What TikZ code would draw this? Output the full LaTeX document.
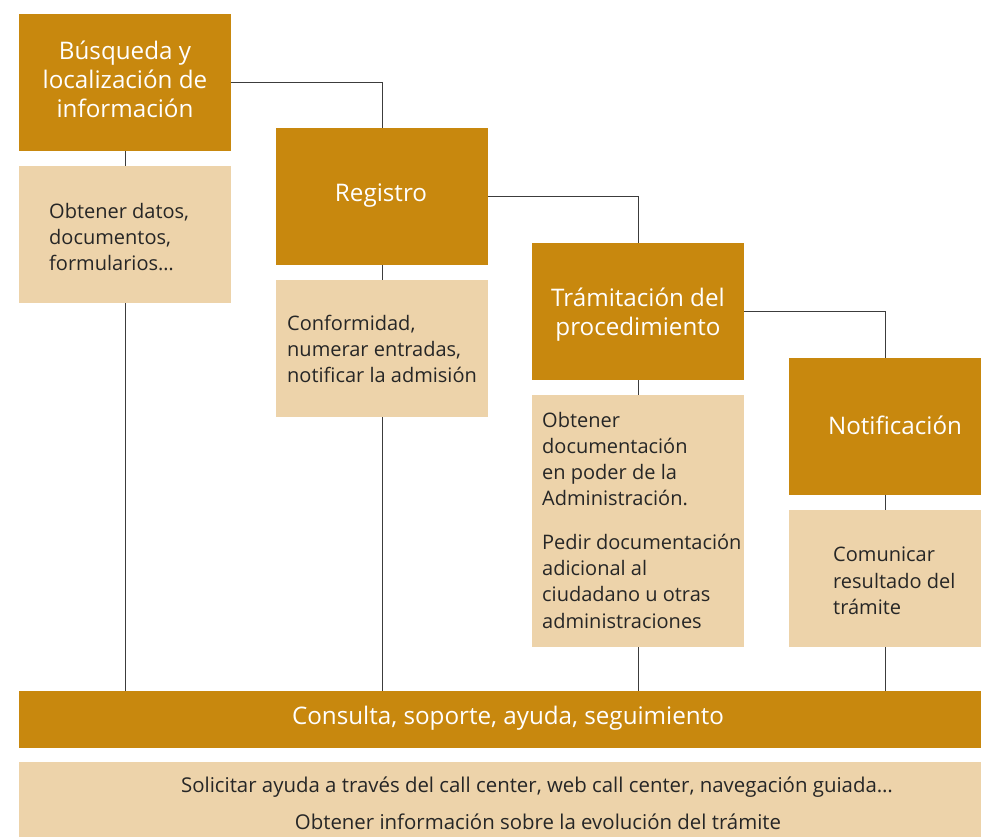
\documentclass[tikz,border=0pt]{standalone}
\usepackage{fontspec}
\setmainfont{Open Sans}
\usetikzlibrary{backgrounds}
\definecolor{ochre}{RGB}{200,136,14}
\definecolor{sand}{RGB}{237,211,170}
\definecolor{wire}{RGB}{60,60,60}
\tikzset{
  stage/.style={fill=ochre, draw=none, inner sep=0pt, anchor=north west},
  detail/.style={fill=sand, draw=none, inner sep=0pt, anchor=north west},
  headtxt/.style={text=white, align=center, font=\fontsize{24.2}{29}\selectfont, inner sep=0pt},
  bodytxt/.style={text=black!85, align=left, font=\fontsize{20}{26.3}\selectfont, inner sep=0pt, anchor=west},
  foottxt/.style={text=black!85, font=\fontsize{20.4}{22}\selectfont, inner sep=0pt},
  link/.style={draw=wire, line width=1pt}
}
\begin{document}
\begin{tikzpicture}[x=1pt, y=-1pt]
\useasboundingbox (0,0) rectangle (981,836);

% step boxes
\node[stage, minimum width=212pt, minimum height=137pt] (b1) at (19,14) {};
\node[detail, minimum width=212pt, minimum height=137pt] (d1) at (19,166) {};
\node[stage, minimum width=212pt, minimum height=137pt] (b2) at (276,128) {};
\node[detail, minimum width=212pt, minimum height=137pt] (d2) at (276,280) {};
\node[stage, minimum width=212pt, minimum height=137pt] (b3) at (532,243) {};
\node[detail, minimum width=212pt, minimum height=252pt] (d3) at (532,395) {};
\node[stage, minimum width=192pt, minimum height=137pt] (b4) at (789,358) {};
\node[detail, minimum width=192pt, minimum height=137pt] (d4) at (789,510) {};

% support band
\node[stage, minimum width=962pt, minimum height=57pt] (bar) at (19,691) {};
\node[detail, minimum width=962pt, minimum height=80pt] (info) at (19,762) {};

% connectors behind the boxes
\begin{pgfonlayer}{background}
  \draw[link] (b1.east) -| (b2.north);
  \draw[link] (b2.east) -| (b3.north);
  \draw[link] (b3.east) -| (b4.north);
  \draw[link] (b1.south) -- (b1.south |- bar.north);
  \draw[link] (b2.south) -- (b2.south |- bar.north);
  \draw[link] (b3.south) -- (b3.south |- bar.north);
  \draw[link] (b4.south) -- (b4.south |- bar.north);
\end{pgfonlayer}

% labels
\node[headtxt] (t1) at (125,79) {Búsqueda y\\localización de\\información};
\node[headtxt] (t2) at (381,196) {Registro};
\node[headtxt] (t3) at (638,315) {Trámitación del\\procedimiento};
\node[headtxt] (t4) at (895,425) {Notificación};

\node[bodytxt] (s1) at (49,237) {Obtener datos,\\documentos,\\formularios…};
\node[bodytxt] (s2) at (287,349) {Conformidad,\\numerar entradas,\\notificar la admisión};
\node[bodytxt] (s3a) at (542,459) {Obtener\\documentación\\en poder de la\\Administración.};
\node[bodytxt] (s3b) at (542,581) {Pedir documentación\\adicional al\\ciudadano u otras\\administraciones};
\node[bodytxt] (s4) at (833,581) {Comunicar\\resultado del\\trámite};

\node[headtxt] (tb) at (508,718) {Consulta, soporte, ayuda, seguimiento};
\node[foottxt] (f1) at (537,787) {Solicitar ayuda a través del call center, web call center, navegación guiada…};
\node[foottxt] (f2) at (538,822) {Obtener información sobre la evolución del trámite};
\end{tikzpicture}
\end{document}
